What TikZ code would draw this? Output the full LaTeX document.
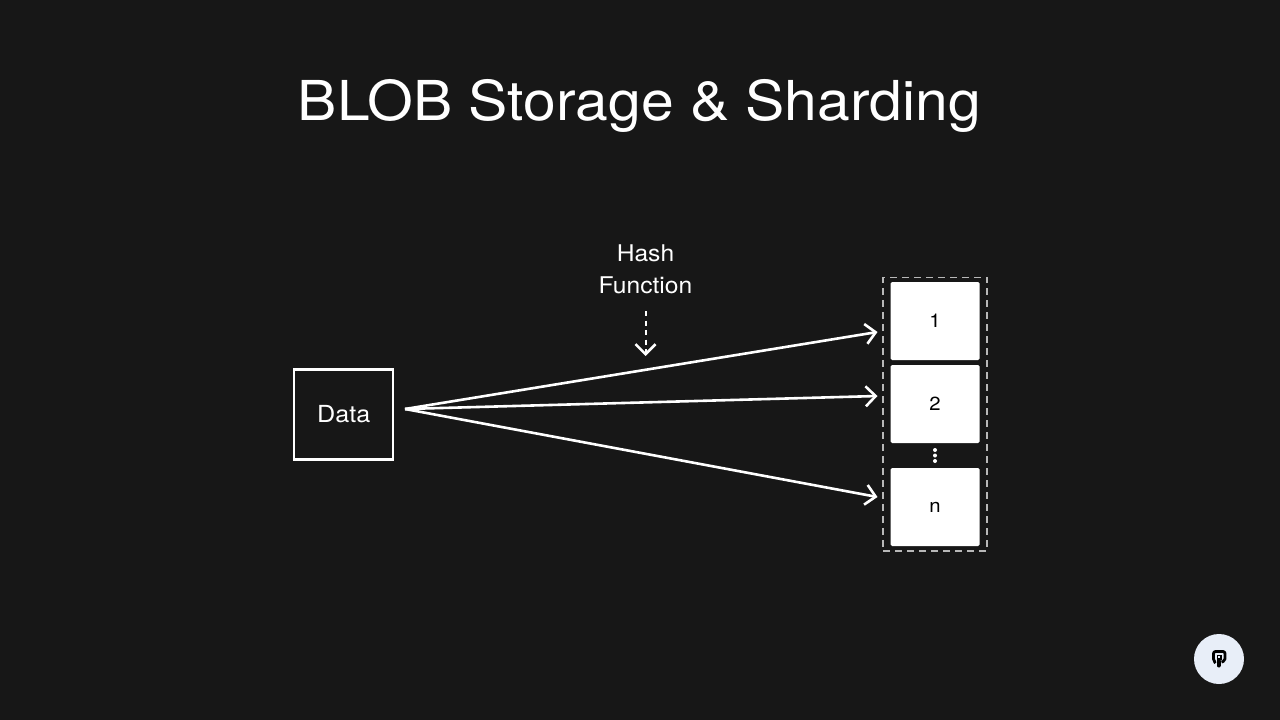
\documentclass[tikz,border=0pt]{standalone}
\usepackage{fontspec}
\setmainfont[FakeStretch=1.07]{TeX Gyre Heros}
\usetikzlibrary{arrows.meta}
\definecolor{bg}{HTML}{171717}
\definecolor{badge}{HTML}{E8EEF8}
\tikzset{
  x=1pt,y=-1pt,
  lab/.style={text=white,inner sep=0pt,align=center},
  shard/.style={fill=white,draw=none,rounded corners=1.5pt,minimum width=89pt,minimum height=78pt,inner sep=0pt,text=black,font=\fontsize{19}{21}\selectfont},
  link/.style={draw=white,line width=2.6pt,-{Straight Barb[length=10pt,width=20pt,line width=2.6pt]}},
}
\begin{document}
\begin{tikzpicture}
\path[use as bounding box,fill=bg] (0,0) rectangle (1280,720);
\node[lab,font=\fontsize{55}{60}\selectfont,anchor=base] (title) at (639.5,120) {BLOB Storage \& Sharding};
\node[lab,draw=white,line width=2.5pt,minimum width=99pt,minimum height=90pt,font=\fontsize{23.5}{26}\selectfont,text height=16pt,text depth=0pt] (data) at (343.7,414.5) {Data};
\node[lab,font=\fontsize{23}{32}\selectfont] (hash) at (645.5,269) {Hash\\Function};
\node[shard] (s1) at (935,321) {1};
\node[shard] (s2) at (935,404) {2};
\node[shard,text height=10pt,text depth=0pt] (sn) at (935,507) {n};
\node[draw=white!72!black,dash pattern=on 7pt off 5pt,line width=1.3pt,minimum width=104pt,minimum height=273.5pt,inner sep=0pt] (group) at (935,414.2) {};
\coordinate (src) at (405,409);
\coordinate (t1) at (877.5,332);
\coordinate (t2) at (877.5,396);
\coordinate (tn) at (877.5,497);
\draw[link] (src) -- (t1);
\draw[link] (src) -- (t2);
\draw[link] (src) -- (tn);
\coordinate (h1) at (645.5,311);
\coordinate (h2) at (645.5,356);
\draw[draw=white,line width=2pt,dash pattern=on 5pt off 4.5pt,-{Straight Barb[length=10pt,width=20pt,line width=2.6pt]}] (h1) -- (h2);
\fill[white] (935,450) circle (2) (935,455.5) circle (2) (935,461) circle (2);
\fill[badge] (1219,659) circle (25);
\draw[black,line width=2.8pt,line join=round,fill=none,rounded corners=2pt] (1215.5,663) -- (1213.5,661) -- (1213.5,651.5) -- (1225,651.5) -- (1225,661) -- (1221.5,662);
\draw[black,line width=1.6pt] (1217.5,655.5) rectangle (1221,659);
\draw[black,line width=4pt,line cap=round] (1218.5,661) -- (1218.5,665.5);
\end{tikzpicture}
\end{document}
